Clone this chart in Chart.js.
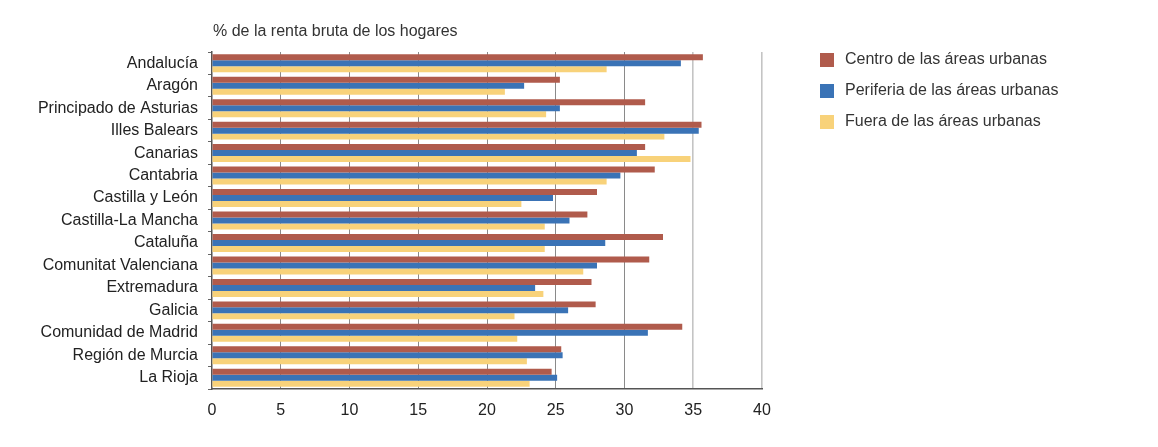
<!DOCTYPE html>
<html>
<head>
<meta charset="utf-8">
<script src="https://cdn.jsdelivr.net/npm/chart.js@4"></script>
<style>
  html, body { margin: 0; padding: 0; background: #fff; }
  #wrap { position: relative; width: 1158px; height: 447px; }
</style>
</head>
<body>
<div id="wrap"><canvas id="myChart" width="1158" height="447"></canvas></div>
<script>
// categories (regions)
var regiones = ["Andalucía", "Aragón", "Principado de Asturias", "Illes Balears", "Canarias",
  "Cantabria", "Castilla y León", "Castilla-La Mancha", "Cataluña", "Comunitat Valenciana",
  "Extremadura", "Galicia", "Comunidad de Madrid", "Región de Murcia", "La Rioja"];

// series values, % of gross household income
var centro    = [35.7, 25.3, 31.5, 35.6, 31.5, 32.2, 28.0, 27.3, 32.8, 31.8, 27.6, 27.9, 34.2, 25.4, 24.7];
var periferia = [34.1, 22.7, 25.3, 35.4, 30.9, 29.7, 24.8, 26.0, 28.6, 28.0, 23.5, 25.9, 31.7, 25.5, 25.1];
var fuera     = [28.7, 21.3, 24.3, 32.9, 34.8, 28.7, 22.5, 24.2, 24.2, 27.0, 24.1, 22.0, 22.2, 22.9, 23.1];

var seriesNames = ["Centro de las áreas urbanas", "Periferia de las áreas urbanas", "Fuera de las áreas urbanas"];
var xTicks = [0, 5, 10, 15, 20, 25, 30, 35, 40];
var titulo = "% de la renta bruta de los hogares";

var colores = ["#b05b4c", "#3a73b6", "#f8d27a"];
var FONT = "'Liberation Sans', Arial, sans-serif";

//-----------------------------------
// title + legend drawn on the canvas
//-----------------------------------
var extras = {
  id: 'extras',
  afterDraw: function (chart) {
    var ctx = chart.ctx;
    var area = chart.chartArea;
    ctx.save();
    ctx.font = "16px " + FONT;
    ctx.fillStyle = "#333";
    ctx.textBaseline = "middle";
    ctx.textAlign = "left";
    ctx.fillText(titulo, area.left + 1, 32);

    // legend
    chart.data.datasets.forEach(function (ds, i) {
      var y = 60 + i * 31;
      ctx.fillStyle = ds.backgroundColor;
      ctx.fillRect(820, y - 7, 14, 14);
      ctx.fillStyle = "#333";
      ctx.fillText(ds.label, 845, y);
    });
    ctx.restore();
  }
};

function displayGraph() {
  var grapharea = document.getElementById('myChart');

  var data = {
    labels: regiones,
    datasets: [centro, periferia, fuera].map(function (vals, i) {
      return {
        label: seriesNames[i],
        data: vals,
        backgroundColor: colores[i],
        borderWidth: 0,
        categoryPercentage: 0.8,
        barPercentage: 1.0
      };
    })
  };

  var config = {
    type: 'bar',
    data: data,
    options: {
      indexAxis: 'y',
      responsive: false,
      animation: false,
      layout: { padding: { top: 52, right: 396, bottom: 0, left: 0 } },
      plugins: {
        legend: { display: false },
        title: { display: false },
        tooltip: { enabled: false }
      },
      scales: {
        x: {
          min: 0,
          max: 40,
          afterBuildTicks: function (scale) {
            scale.ticks = xTicks.map(function (v) { return { value: v }; });
          },
          afterFit: function (scale) { scale.height = 58; },
          grid: {
            color: function (c) {
              if (c.index === 0) return 'rgba(0,0,0,0)';
              return c.index >= 7 ? '#c4c4c4' : '#8a8a8a';
            },
            lineWidth: function (c) { return c.index >= 7 ? 1.6 : 1; },
            drawTicks: false
          },
          border: { color: '#555', width: 1.5 },
          ticks: {
            padding: 12,
            color: '#222',
            font: { family: FONT, size: 16 }
          }
        },
        y: {
          afterFit: function (scale) { scale.width = 212; },
          grid: {
            drawOnChartArea: false,
            drawTicks: true,
            tickLength: 4,
            color: '#666'
          },
          border: { color: '#555', width: 1.5 },
          ticks: {
            padding: 10,
            color: '#222',
            font: { family: FONT, size: 16 }
          }
        }
      }
    },
    plugins: [extras]
  };

  //launch ie. "create" the chart
  var myChart = new Chart(grapharea, config);
}
displayGraph();
</script>
</body>
</html>
